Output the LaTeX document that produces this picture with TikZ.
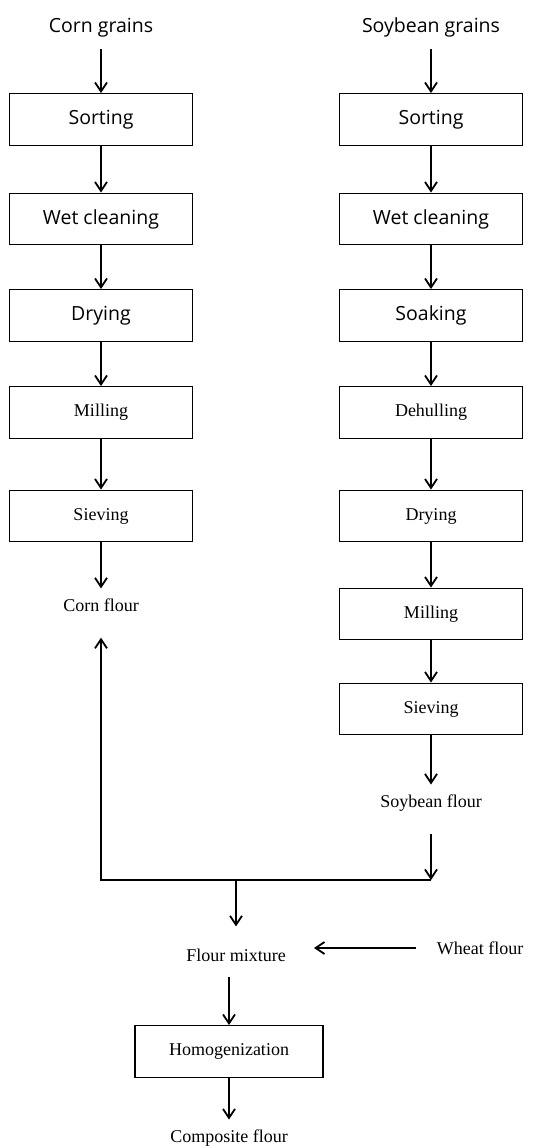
\documentclass[tikz,border=0pt]{standalone}
\usepackage{fontspec}
\setmainfont{Liberation Serif}
\newfontfamily\sansf{Open Sans}
\usetikzlibrary{arrows.meta}

\begin{document}
\begin{tikzpicture}[x=1pt,y=-1pt]
        \tikzstyle{bs} = [rectangle, draw, line width=1.4pt, minimum width=183pt, minimum height=51.5pt, inner sep=0pt, font=\sansf\fontsize{19.5}{22}\selectfont]
        \tikzstyle{br} = [bs, font=\fontsize{18}{20}\selectfont]
        \tikzstyle{hs} = [inner xsep=0pt, inner ysep=10pt, font=\sansf\fontsize{19.5}{22}\selectfont]
        \tikzstyle{tx} = [inner xsep=0pt, inner ysep=10pt, font=\fontsize{18}{20}\selectfont]
        \tikzstyle{e} = [line width=1.4pt, -{Straight Barb[length=9pt,width=12pt,line width=1.8pt]}];
        \useasboundingbox (0,0) rectangle (535,1146);

        \node[hs](c0) at (101,27.5){Corn grains};
        \node[bs](c1) at (101,119.5){Sorting};
        \node[bs](c2) at (101,219){Wet cleaning};
        \node[bs](c3) at (101,315.5){Drying};
        \node[br](c4) at (101,412.5){Milling};
        \node[br](c5) at (101,516){Sieving};
        \node[tx](c6) at (101,605){Corn flour};

        \node[hs](s0) at (431,27){Soybean grains};
        \node[bs](s1) at (431,119.5){Sorting};
        \node[bs](s2) at (431,219){Wet cleaning};
        \node[bs](s3) at (431,315.5){Soaking};
        \node[br](s4) at (431,412.5){Dehulling};
        \node[br](s5) at (431,516){Drying};
        \node[br](s6) at (431,614){Milling};
        \node[br](s7) at (431,709){Sieving};
        \node[tx](s8) at (431,803){Soybean flour};

        \coordinate (j1) at (101,880);
        \coordinate (j2) at (431,880);
        \coordinate (j3) at (236,880);
        \node[tx](m1) at (236,955){Flour mixture};
        \node[tx](w1) at (480,948){Wheat flour};
        \node[br, minimum width=188pt](m2) at (229,1051.5){Homogenization};
        \node[tx](m3) at (229,1138){Composite flour};

        \draw[e, shorten <=2pt](c0)--(c1);
        \draw[e](c1)--(c2);
        \draw[e](c2)--(c3);
        \draw[e](c3)--(c4);
        \draw[e](c4)--(c5);
        \draw[e](c5)--(c6);

        \draw[e, shorten <=2pt](s0)--(s1);
        \draw[e](s1)--(s2);
        \draw[e](s2)--(s3);
        \draw[e](s3)--(s4);
        \draw[e](s4)--(s5);
        \draw[e](s5)--(s6);
        \draw[e](s6)--(s7);
        \draw[e](s7)--(s8);

        \draw[e, shorten <=13pt](s8)--(j2);
        \draw[e, shorten >=16pt](j2)--(j1)--(c6);
        \draw[e, shorten >=12pt](j3)--(m1);
        \draw[e, shorten <=21pt, shorten >=28pt](w1)--(w1 -| m1.east);
        \draw[e, shorten <=5pt](m1.south -| m2)--(m2);
        \draw[e](m2)--(m3);
    \end{tikzpicture}
\end{document}
